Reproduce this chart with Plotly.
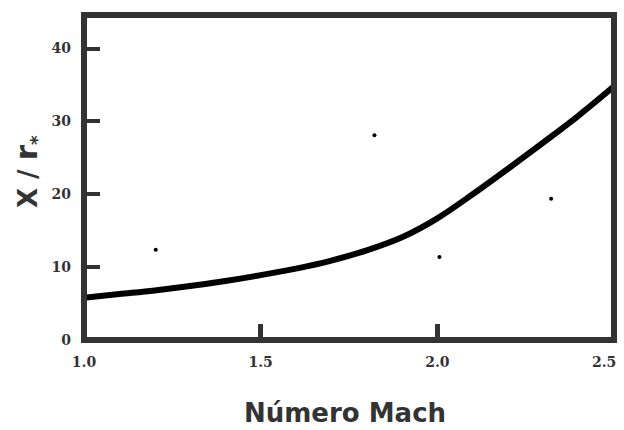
import plotly.graph_objects as go

# Distance to reattachment vs Mach number
mach = [1.0, 1.1, 1.2, 1.3, 1.4, 1.5, 1.6, 1.7, 1.8, 1.9,
        2.0, 2.1, 2.2, 2.3, 2.4, 2.5]
x_over_r = [5.8, 6.3, 6.8, 7.4, 8.1, 8.9, 9.8, 10.9, 12.3, 14.1,
            16.7, 20.0, 23.5, 27.1, 30.8, 34.8]

# isolated points
spot_x = [1.203, 1.822, 2.006, 2.322]
spot_y = [12.4, 28.1, 11.4, 19.4]

x_ticks = [1.0, 1.5, 2.0, 2.5]
x_tick_text = ["1.0", "1.5", "2.0", "2.5"]
y_ticks = [0, 10, 20, 30, 40]

AXIS = "#333333"
tick_font = dict(family="DejaVu Serif", size=14, color=AXIS, weight="bold")

fig = go.Figure()
fig.add_trace(go.Scatter(x=mach, y=x_over_r, mode="lines",
                         line=dict(color="black", width=6, shape="spline", smoothing=1.0),
                         showlegend=False, hoverinfo="skip", cliponaxis=False))
fig.add_trace(go.Scatter(x=spot_x, y=spot_y, mode="markers",
                         marker=dict(color="black", size=4),
                         showlegend=False, hoverinfo="skip"))

# last tick label sits flush with the right edge, drawn as an annotation
last_label = dict(text=x_tick_text[-1], x=x_ticks[-1], xref="x", y=-0.068, yref="paper",
                  xanchor="right", yanchor="middle", xshift=4, showarrow=False,
                  font=tick_font)

fig.update_layout(
    width=624, height=430,
    margin=dict(l=84, r=10, t=15, b=90, autoexpand=False),
    paper_bgcolor="white", plot_bgcolor="white",
    xaxis=dict(range=[1.0, 2.5], tickvals=x_ticks,
               ticktext=x_tick_text[:-1] + [""],
               ticks="inside", ticklen=16, tickwidth=5, tickcolor=AXIS,
               showgrid=False, zeroline=False, showline=False,
               tickfont=tick_font, ticklabelstandoff=12, automargin=False),
    yaxis=dict(range=[0, 44.6], tickvals=y_ticks,
               ticks="inside", ticklen=16, tickwidth=4, tickcolor=AXIS,
               showgrid=False, zeroline=False, showline=False,
               tickfont=tick_font, ticklabelstandoff=12, automargin=False),
    shapes=[dict(type="rect", xref="paper", yref="paper", x0=0, x1=1, y0=0, y1=1,
                 line=dict(color=AXIS, width=6), layer="above")],
    annotations=[
        last_label,
        dict(text="Número Mach", xref="paper", yref="paper", x=0.4925, y=-0.2246,
             xanchor="center", yanchor="middle", showarrow=False,
             font=dict(family="DejaVu Sans", size=26, color=AXIS, weight="bold")),
        dict(text="X / <span style='font-size:31px'>r</span><sub>*</sub>",
             xref="paper", yref="paper", x=-0.1075, y=0.517, textangle=-90,
             xanchor="center", yanchor="middle", showarrow=False,
             font=dict(family="DejaVu Sans", size=26, color=AXIS, weight="bold")),
    ],
)

fig.write_html("out.html")
